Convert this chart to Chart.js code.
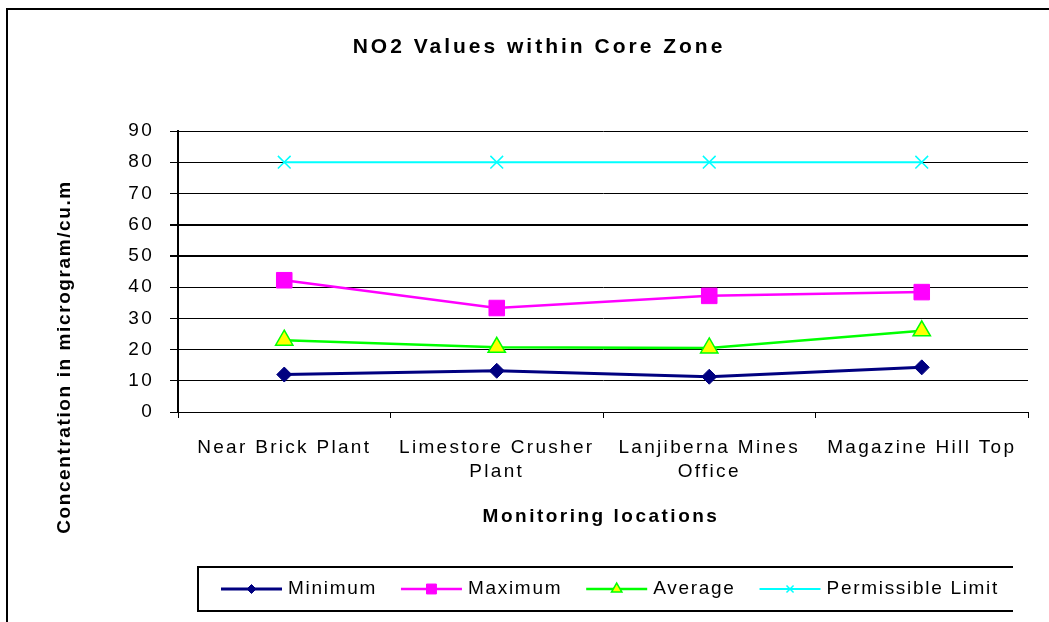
<!DOCTYPE html>
<html><head><meta charset="utf-8">
<script src="https://cdn.jsdelivr.net/npm/chart.js@4.4.1/dist/chart.umd.min.js"></script>
<style>html,body{margin:0;padding:0;background:#fff}#wrap{width:1049px;height:622px;position:relative}</style>
</head><body><div id="wrap"><canvas id="c" width="1049" height="622"></canvas></div>
<script>
const categories = ['Near Brick Plant', ['Limestore Crusher', 'Plant'], ['Lanjiberna Mines', 'Office'], 'Magazine Hill Top'];
const minimumValues = [12.0, 13.2, 11.3, 14.3];
const maximumValues = [42.2, 33.3, 37.2, 38.4];
const averageValues = [23.0, 20.7, 20.5, 26.0];
const limitValues = [80, 80, 80, 80];
const seriesNames = ['Minimum', 'Maximum', 'Average', 'Permissible Limit'];
const yMin = 0, yMax = 90, yStep = 10;
const chartTitle = 'NO2 Values within Core Zone';
const xTitle = 'Monitoring locations';
const yTitle = 'Concentration in microgram/cu.m';

const FONT = "'Liberation Sans', Arial, sans-serif";

const legendRadius = [4.5, 7, 6, 5];

const decor = {
  id: 'decor',
  beforeLayout(chart) { chart.ctx.letterSpacing = '2.3px'; },
  beforeDraw(chart) {
    chart.ctx.letterSpacing = '2.3px';
  },
  afterDraw(chart) {
    const ctx = chart.ctx;
    const ca = chart.chartArea;
    ctx.save();
    // outer frame (left + top visible)
    ctx.strokeStyle = '#000';
    ctx.lineWidth = 2;
    ctx.beginPath();
    ctx.moveTo(7, chart.height);
    ctx.lineTo(7, 9);
    ctx.lineTo(chart.width, 9);
    ctx.stroke();

    // title
    ctx.fillStyle = '#000';
    ctx.textAlign = 'center';
    ctx.textBaseline = 'middle';
    ctx.letterSpacing = '3px';
    ctx.font = 'bold 21px ' + FONT;
    ctx.fillText(chartTitle, 539, 47);

    // x title
    ctx.letterSpacing = '2.5px';
    ctx.font = 'bold 19px ' + FONT;
    ctx.fillText(xTitle, (ca.left + ca.right) / 2 - 2, 517);

    // y title
    ctx.save();
    ctx.translate(65, 357);
    ctx.rotate(-Math.PI / 2);
    ctx.letterSpacing = '1.6px';
    ctx.font = 'bold 19px ' + FONT;
    ctx.fillText(yTitle, 0, 0);
    ctx.restore();

    // legend box
    const lb = {left: 198, top: 567, right: 1013, bottom: 611};
    ctx.lineWidth = 2;
    ctx.strokeStyle = '#000';
    ctx.beginPath();
    ctx.moveTo(lb.right, lb.top);
    ctx.lineTo(lb.left, lb.top);
    ctx.lineTo(lb.left, lb.bottom);
    ctx.lineTo(lb.right, lb.bottom);
    ctx.stroke();

    ctx.font = '19px ' + FONT;
    ctx.letterSpacing = '1.7px';
    ctx.textAlign = 'left';
    let x = 221;
    const cy = (lb.top + lb.bottom) / 2;
    chart.data.datasets.forEach((ds, i) => {
      const lineLen = 61;
      ctx.strokeStyle = ds.borderColor;
      ctx.lineWidth = ds.borderWidth;
      ctx.beginPath();
      ctx.moveTo(x, cy);
      ctx.lineTo(x + lineLen, cy);
      ctx.stroke();
      ctx.fillStyle = ds.pointBackgroundColor;
      ctx.strokeStyle = ds.pointBorderColor;
      ctx.lineWidth = ds.pointBorderWidth;
      Chart.helpers.drawPoint(ctx, {pointStyle: ds.pointStyle, radius: legendRadius[i], rotation: 0, borderWidth: ds.pointBorderWidth}, x + lineLen / 2, cy);
      ctx.fillStyle = '#000';
      const tx = x + lineLen + 6;
      ctx.fillText(ds.label, tx, cy);
      x = tx + ctx.measureText(ds.label).width + 24;
    });
    ctx.restore();
  }
};

new Chart(document.getElementById('c'), {
  type: 'line',
  data: {
    labels: categories,
    datasets: [
      {label: seriesNames[0], data: minimumValues, borderColor: '#000080', borderWidth: 3,
       pointStyle: 'rectRot', pointRadius: 7.5, pointBackgroundColor: '#000080', pointBorderColor: '#000080', pointBorderWidth: 1},
      {label: seriesNames[1], data: maximumValues, borderColor: '#FF00FF', borderWidth: 2.5,
       pointStyle: 'rect', pointRadius: 11, pointBackgroundColor: '#FF00FF', pointBorderColor: '#FF00FF', pointBorderWidth: 1},
      {label: seriesNames[2], data: averageValues, borderColor: '#00FF00', borderWidth: 2.5,
       pointStyle: 'triangle', pointRadius: 10, pointBackgroundColor: '#FFFF00', pointBorderColor: '#00FF00', pointBorderWidth: 1.5},
      {label: seriesNames[3], data: limitValues, borderColor: '#00FFFF', borderWidth: 2,
       pointStyle: 'crossRot', pointRadius: 9, pointBackgroundColor: '#00FFFF', pointBorderColor: '#00FFFF', pointBorderWidth: 1.5}
    ]
  },
  options: {
    responsive: false,
    devicePixelRatio: 1,
    animation: false,
    events: [],
    layout: {padding: {top: 131, right: 21, bottom: 0, left: 0}},
    elements: {line: {tension: 0}},
    plugins: {legend: {display: false}, title: {display: false}, tooltip: {enabled: false}},
    scales: {
      x: {
        offset: true,
        afterFit(scale) { scale.height = 210; },
        grid: {display: true, drawOnChartArea: false, drawTicks: true, tickLength: 6, color: '#000', lineWidth: 1, offset: true},
        border: {display: true, color: '#000', width: 1},
        ticks: {color: '#000', font: {family: FONT, size: 19, lineHeight: 1.3}, padding: 17, maxRotation: 0, autoSkip: false}
      },
      y: {
        min: yMin, max: yMax,
        afterFit(scale) { scale.width = 178; },
        grid: {color: '#000', lineWidth: (c) => (c.tick && (c.tick.value === 50 || c.tick.value === 60)) ? 2 : 1, tickLength: 8, drawTicks: true},
        border: {display: true, color: '#000', width: 2},
        ticks: {stepSize: yStep, color: '#000', font: {family: FONT, size: 19}, padding: 16}
      }
    }
  },
  plugins: [decor]
});
</script>
</body></html>
